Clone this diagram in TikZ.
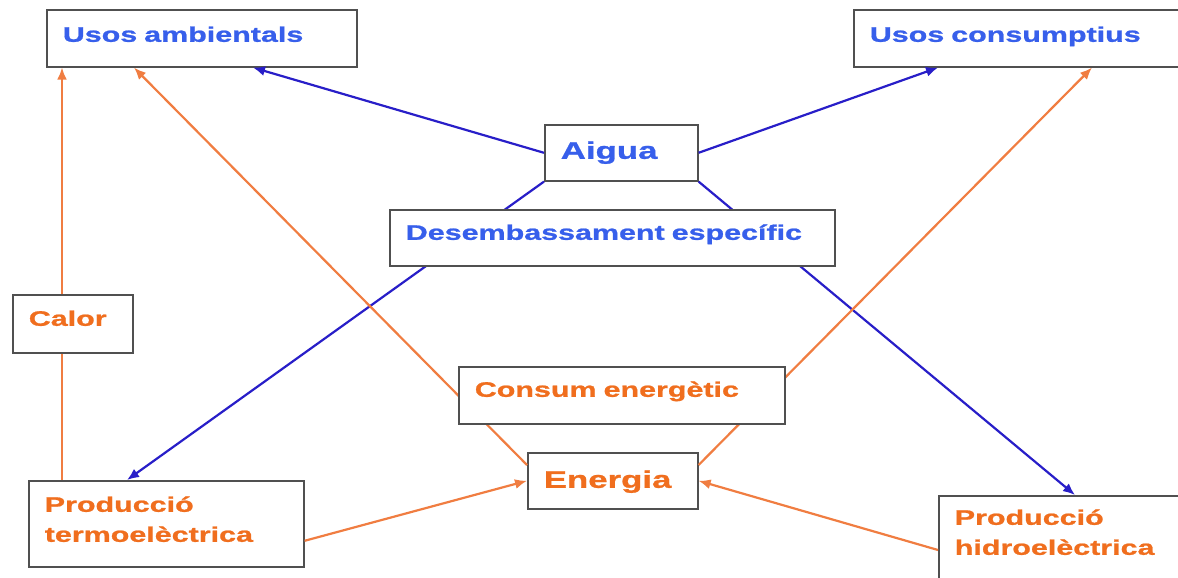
\documentclass[tikz,border=0pt]{standalone}
\usepackage{fontspec}
\newfontfamily\boxfont[FakeStretch=1.45, FakeBold=1]{Liberation Sans Bold}
\usetikzlibrary{calc, arrows.meta}
\definecolor{txtblue}{RGB}{55,95,235}
\definecolor{txtorange}{RGB}{240,110,30}
\definecolor{lineblue}{RGB}{40,30,200}
\definecolor{lineorange}{RGB}{240,125,65}
\definecolor{boxgray}{RGB}{80,80,80}

\begin{document}
\begin{tikzpicture}[x=0.5pt, y=-0.5pt, >={Latex[length=6pt,width=5pt]},
  box/.style={draw=boxgray, fill=white, line width=0.8pt, anchor=north west,
    inner xsep=8pt, inner ysep=0pt, align=left,
    font={\boxfont\fontsize{10.5pt}{15pt}\selectfont}},
  big/.style={font={\boxfont\fontsize{12pt}{15pt}\selectfont}},
  water/.style={text=txtblue},
  power/.style={text=txtorange},
  wline/.style={draw=lineblue, line width=1.1pt},
  pline/.style={draw=lineorange, line width=1.1pt}]
\useasboundingbox (0,0) rectangle (1178,578);

\node[box, water, text width=139pt, text height=16pt, text depth=12.5pt] (usam) at (46,9) {Usos ambientals};
\node[box, water, text width=148pt, text height=16pt, text depth=12.5pt] (uscons) at (853,9) {Usos consumptius};
\node[box, water, big, text width=60.5pt, text height=17pt, text depth=11pt] (aigua) at (544,124) {Aigua};
\node[box, power, big, text width=69pt, text height=17.5pt, text depth=10.5pt] (energia) at (527,452) {Energia};
\node[box, power, text width=121.5pt, text height=15.5pt, text depth=27.5pt] (termo) at (28,480) {Producció\\termoelèctrica};
\node[box, power, text width=109pt, text height=14.5pt, text depth=38pt] (hidro) at (938,495) {Producció\\hidroelèctrica};

\draw[wline, ->] (aigua.west) -- ($(usam.south west)+(207,0)$);
\draw[wline, ->] (aigua.east) -- ($(uscons.south west)+(85,0)$);
\draw[wline, ->] (aigua.south west) -- ($(termo.north west)+(99,0)$);
\draw[wline, ->] (aigua.south east) -- ($(hidro.north west)+(137,0)$);
\draw[pline, ->] ($(termo.north west)+(34,0)$) -- ($(usam.south west)+(16,0)$);
\draw[pline, ->] ($(energia.north west)+(0,13)$) -- ($(usam.south west)+(88,0)$);
\draw[pline, ->] ($(energia.north east)+(0,13)$) -- ($(uscons.south west)+(239,0)$);
\draw[pline, ->] ($(termo.east)+(0,17)$) -- (energia.west);
\draw[pline, ->] ($(hidro.north west)+(0,55)$) -- (energia.east);

\node[box, water, text width=206.5pt, text height=15pt, text depth=13pt] (desemb) at (389,209) {Desembassament específic};
\node[box, power, text width=44pt, text height=15.5pt, text depth=13.5pt] (calor) at (12,294) {Calor};
\node[box, power, text width=147pt, text height=15pt, text depth=13.5pt] (consum) at (458,366) {Consum energètic};
\end{tikzpicture}
\end{document}
